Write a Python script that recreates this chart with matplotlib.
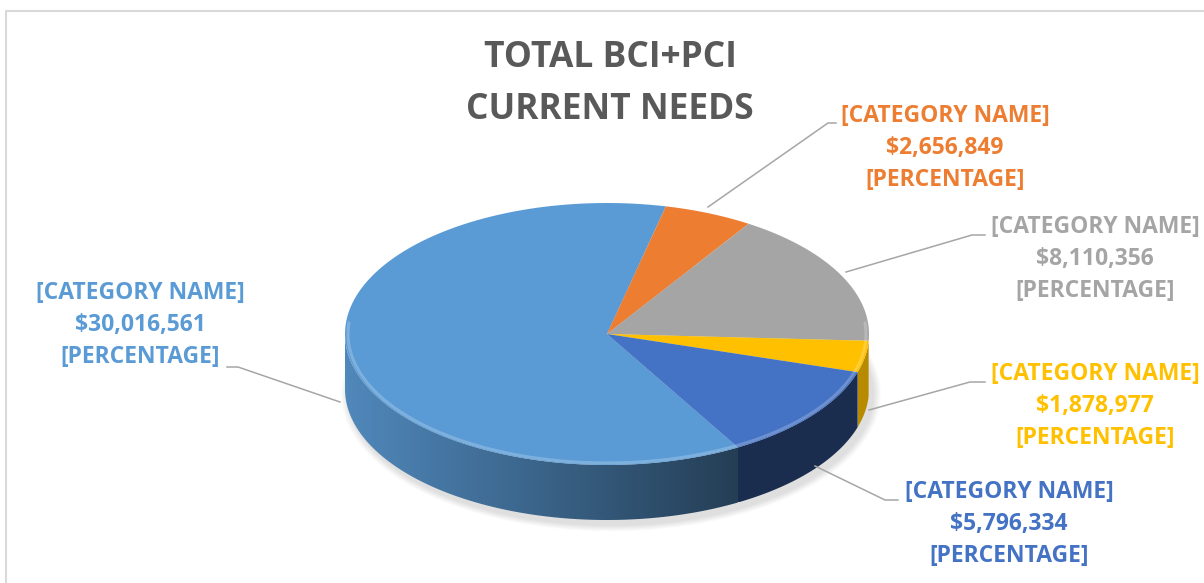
import matplotlib
matplotlib.use("Agg")
import matplotlib.pyplot as plt
import numpy as np
from matplotlib.patches import Polygon, Ellipse
from matplotlib.colors import to_rgb

# ---- data (clockwise from the first slice) ----
categories = ["[CATEGORY NAME]"] * 5
values = [30016561, 2656849, 8110356, 1878977, 5796334]
colors = ["#5B9BD5", "#ED7D31", "#A5A5A5", "#FFC000", "#4472C4"]
pct_text = "[PERCENTAGE]"
title = "TOTAL BCI+PCI\nCURRENT NEEDS"

# ---- layout (pixel space) ----
W, H = 1204, 583
CX, CY, A, B = 607, 334, 262, 131
DEPTH = 55
START = 300.0  # angle of first slice edge, degrees, goes clockwise

label_pos = [(140, 325), (945, 148), (1095, 259), (1095, 406), (1009, 524)]
leaders = [
    [(340, 402), (238, 367), (227, 367)],
    [(708, 207), (828, 123), (836, 123)],
    [(846, 272), (972, 235), (985, 235)],
    [(869, 410), (970, 382), (985, 382)],
    [(815, 466), (885, 500), (898, 500)],
]
# side shading (left factor, right factor) per slice
side_shade = [(0.88, 0.40), (0.6, 0.6), (0.6, 0.6), (0.72, 0.72), (0.40, 0.40)]

FONT = "Open Sans"

fig = plt.figure(figsize=(W / 100, H / 100), dpi=100)
ax = fig.add_axes([0, 0, 1, 1])
ax.set_xlim(0, W)
ax.set_ylim(H, 0)
ax.axis("off")


def arc(t0, t1, n=120, dy=0.0, da=0.0, db=0.0):
    t = np.radians(np.linspace(t0, t1, n))
    return np.column_stack([CX + (A + da) * np.cos(t), CY - (B + db) * np.sin(t) + dy])


# shadow under the pie
for k in range(16, 0, -2):
    ax.add_patch(Ellipse((CX + 4, CY + DEPTH + 5), 2 * A + k, 2 * B + k * 0.8,
                         facecolor="black", edgecolor="none", alpha=0.016, zorder=1))

spans = np.array(values) / sum(values) * 360.0
starts = START - np.concatenate([[0], np.cumsum(spans)[:-1]])
ends = starts - spans

# sides (front half only)
for i in range(len(values)):
    s, e = starts[i], ends[i]
    for off in (-720, -360, 0, 360):
        lo, hi = max(e, 180 + off), min(s, 360 + off)
        if hi <= lo:
            continue
        pts = np.vstack([arc(lo, hi), arc(hi, lo, dy=DEPTH)])
        poly = Polygon(pts, closed=True, facecolor="none", edgecolor="none",
                       transform=ax.transData)
        x0, x1 = pts[:, 0].min(), pts[:, 0].max()
        y0, y1 = pts[:, 1].min(), pts[:, 1].max()
        fl, fr = side_shade[i]
        f = np.linspace(fl, fr, 200)
        rgb = np.array(to_rgb(colors[i]))
        img = np.clip(f[None, :, None] * rgb[None, None, :], 0, 1)
        img = np.repeat(img, 2, axis=0)
        im = ax.imshow(img, extent=(x0, x1, y1, y0), aspect="auto",
                       interpolation="bilinear", zorder=2)
        im.set_clip_path(poly)

# top faces
for i in range(len(values)):
    pts = np.vstack([[CX, CY], arc(starts[i], ends[i])])
    ax.add_patch(Polygon(pts, closed=True, facecolor=colors[i], edgecolor="none", zorder=3))

# rim highlight along the front edge
rim = arc(175, 365, da=-3, db=-2)
ax.plot(rim[:, 0], rim[:, 1], color="white", alpha=0.22, lw=2.2, zorder=4,
        solid_capstyle="round")

ax.set_xlim(0, W)
ax.set_ylim(H, 0)

# leader lines and labels
for i in range(len(values)):
    xs, ys = zip(*leaders[i])
    ax.plot(xs, ys, color="#A6A6A6", lw=1.1, zorder=5)
    txt = f"{categories[i]}\n${values[i]:,}\n{pct_text}"
    ax.text(label_pos[i][0], label_pos[i][1], txt, ha="center", va="center",
            color=colors[i], fontsize=16.5, fontweight="bold", family=FONT,
            linespacing=1.46, zorder=6)

ax.text(610, 84, title, ha="center", va="center", color="#595959",
        fontsize=25.5, fontweight="bold", family=FONT, linespacing=1.58)

# chart area border
ax.plot([6, 6, W], [H, 11, 11], color="#D9D9D9", lw=1.5, zorder=0)

fig.savefig("out.png", dpi=100)
